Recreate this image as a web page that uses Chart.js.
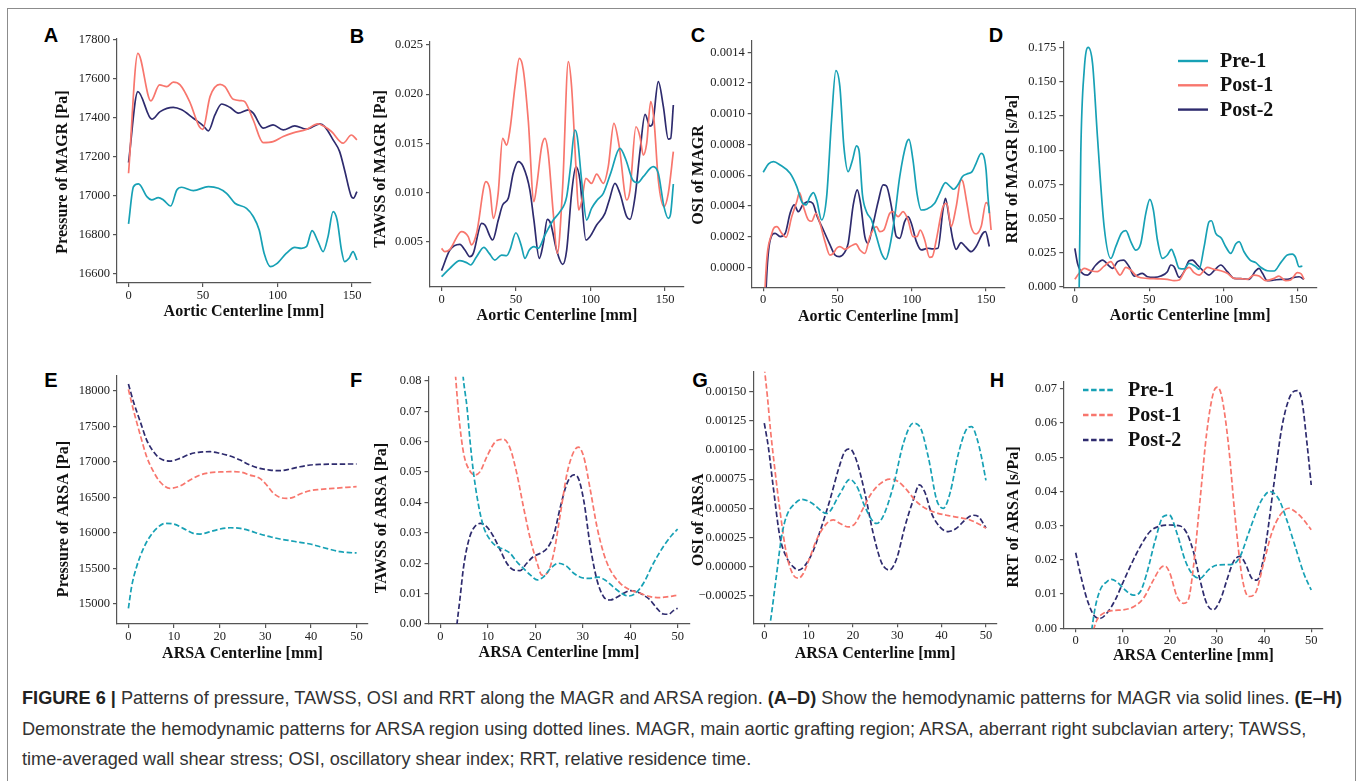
<!DOCTYPE html>
<html><head><meta charset="utf-8">
<script src="https://cdn.jsdelivr.net/npm/chart.js@4.4.0/dist/chart.umd.min.js"></script>
<style>
html,body{margin:0;padding:0;background:#fff;width:1360px;height:781px;overflow:hidden;position:relative;}
#frame{position:absolute;left:7px;top:8px;width:1349px;height:830px;border:1.5px solid #8c8c8c;box-sizing:border-box;}
canvas{position:absolute;}
.lbl{position:absolute;font:bold 20px 'Liberation Sans',Arial,sans-serif;color:#000;transform:translate(-50%,-50%);line-height:20px;}
.cap{position:absolute;left:22px;white-space:nowrap;font-family:'Liberation Sans',Arial,sans-serif;color:#333;line-height:20px;font-size:16px;}
.cap b{color:#222;}
</style></head><body>
<div id="frame"></div>
<div class="lbl" style="left:51px;top:35px">A</div>
<div class="lbl" style="left:357px;top:36px">B</div>
<div class="lbl" style="left:698px;top:35px">C</div>
<div class="lbl" style="left:996px;top:35px">D</div>
<div class="lbl" style="left:51px;top:380px">E</div>
<div class="lbl" style="left:356px;top:380px">F</div>
<div class="lbl" style="left:700px;top:380px">G</div>
<div class="lbl" style="left:997px;top:380px">H</div>
<div class="cap" id="cap1" style="top:688px"><b>FIGURE 6 |</b> Patterns of pressure, TAWSS, OSI and RRT along the MAGR and ARSA region. <b>(A–D)</b> Show the hemodynamic patterns for MAGR via solid lines. <b>(E–H)</b></div>
<div class="cap" id="cap2" style="top:719px">Demonstrate the hemodynamic patterns for ARSA region using dotted lines. MAGR, main aortic grafting region; ARSA, aberrant right subclavian artery; TAWSS,</div>
<div class="cap" id="cap3" style="top:749px">time-averaged wall shear stress; OSI, oscillatory shear index; RRT, relative residence time.</div>
<script>
// ---------------- DATA ----------------
const seriesNames = ['Pre-1', 'Post-1', 'Post-2'];
const seriesColors = ['#17a1b5', '#f8766d', '#2e2b6e'];

// Panel A: Pressure of MAGR [Pa]
const A_pre_x = [0,3.3,6.7,12.3,15.6,20,23.4,28.3,32.4,35.7,43.5,53.6,60.3,65.8,71.4,79.2,83.7,87.7,91,95.3,99.3,106,111.6,116,119.4,123.2,127.2,130.6,133.9,137.3,140,142.9,145,148,150.7,153.3];
const A_pre_y = [16853,17044,17058,16993,16976,16988,16976,16945,17027,17041,17024,17044,17036,17010,16959,16933,16891,16822,16703,16634,16648,16703,16733,16728,16736,16819,16762,16711,16788,16916,16873,16720,16660,16677,16711,16668];
const A_p1_x = [0,6.25,15,20.8,25.7,30,34.6,41,47.5,49.8,54.7,61.4,64.7,70.3,75.9,78,83.7,90.4,97,103.8,110.5,119.4,127.2,130.6,136.2,144,149.6,153.3];
const A_p1_y = [17113,17728,17484,17566,17557,17580,17566,17480,17352,17338,17506,17569,17557,17492,17485,17480,17386,17270,17275,17301,17320,17338,17366,17356,17327,17267,17309,17284];
const A_p2_x = [0,6.25,15.6,21.2,30,35.7,43.5,50.2,53.6,58,62.5,68,73.7,80.4,83.7,90.4,97,103.8,111.6,119.4,128.3,131.7,137.3,141.7,145,149.6,151,153.3];
const A_p2_y = [17168,17532,17390,17429,17451,17438,17395,17356,17330,17412,17468,17451,17421,17438,17421,17344,17361,17335,17356,17339,17366,17352,17284,17224,17130,16993,16985,17019];

// Panel B: TAWSS of MAGR [Pa]
const B_pre_x = [0,5.6,12.3,16.8,19.5,23.5,28.4,32,35.8,40.3,43.7,45.9,49.9,53.7,55.9,58.9,62,64.9,69.4,75,79.5,84,86.6,89.5,91.1,94,97.4,100.7,104.5,108.6,113.5,119.7,123.8,128.3,131.6,135.4,142.1,145.5,149.3,152.2,153.8,155.6];
const B_pre_y = [0.00144,0.00229,0.00307,0.00287,0.00263,0.00347,0.00442,0.00381,0.00313,0.00364,0.00358,0.00415,0.00591,0.00449,0.00330,0.00415,0.00449,0.00432,0.00568,0.00720,0.00805,0.00958,0.01263,0.01636,0.01568,0.01127,0.00720,0.00839,0.00924,0.00992,0.01195,0.01449,0.01331,0.01127,0.01100,0.01161,0.01263,0.01195,0.00856,0.00737,0.00788,0.01087];
const B_p1_x = [0,2.2,5.6,13.4,17.9,20.1,23.5,29.8,32.5,34.7,38,41,43.7,45.9,49.3,52.2,54.9,58.2,62,63.8,67.2,69.4,71.6,75,77.7,81.3,85.1,87.3,90.2,92,94,96.9,100.7,104.1,108.6,111.9,115.7,119.3,124.3,126.5,130.5,133.2,135.4,137.7,140.4,142.6,145.5,149.3,152.2,155.6];
const B_p1_y = [0.00432,0.00398,0.00422,0.00602,0.00551,0.00466,0.00585,0.01110,0.01025,0.00737,0.00992,0.01551,0.01483,0.01636,0.02076,0.02364,0.02246,0.01737,0.00907,0.01059,0.01466,0.01551,0.01398,0.00788,0.00381,0.01059,0.02331,0.02076,0.01263,0.00822,0.00907,0.01144,0.01093,0.01188,0.01093,0.01263,0.01703,0.01466,0.00924,0.01025,0.01669,0.01568,0.01381,0.01500,0.01924,0.01737,0.01127,0.00856,0.00992,0.01415];
const B_p2_x = [0,5.6,12.3,15.7,19,21.3,26.9,29.1,34.3,38.1,41,44.8,48.1,51.5,54.8,59.3,62,65.6,68.3,71,73.2,77.2,81.3,84,87.3,90.2,92.9,96.9,99.6,104.1,109.7,112.6,116.4,119.7,124.3,126.5,129.9,133.2,136.6,139.9,141.7,145.5,148.9,152.2,153.8,155.6];
const B_p2_y = [0.00205,0.00415,0.00473,0.00415,0.00347,0.00381,0.00686,0.00669,0.00517,0.00720,0.00873,0.00941,0.01195,0.01314,0.01263,0.01025,0.00720,0.00330,0.00483,0.00727,0.00686,0.00415,0.00269,0.00415,0.00992,0.01263,0.01127,0.00517,0.00551,0.00669,0.00788,0.00924,0.01093,0.00992,0.00754,0.00727,0.00958,0.01415,0.01795,0.01676,0.01703,0.02127,0.01873,0.01544,0.01551,0.01890];

// Panel C: OSI of MAGR
const C_pre_x = [0,3.6,6.9,11.4,18.1,22.6,25.9,28.8,31.5,33.8,36,39.3,42.7,46,48.9,51.6,54.3,57.2,60.1,62.8,64.6,66.8,69.5,72.9,76.2,79.6,82.5,85.2,88.5,91.9,96.4,98.1,100.8,103.5,106.4,109.8,115.4,118.7,122.7,125.9,128.1,131.7,134,137.1,140.6,143.3,146.7,148.2,150,151.1,152.2];
const C_pre_y = [0.000619,0.000673,0.000688,0.000666,0.000612,0.000525,0.000428,0.000406,0.000460,0.000486,0.000438,0.000308,0.000460,0.000959,0.001281,0.001176,0.000786,0.000623,0.000699,0.000790,0.000753,0.000471,0.000362,0.000308,0.000200,0.000091,0.000052,0.000135,0.000330,0.000590,0.000807,0.000833,0.000699,0.000482,0.000373,0.000378,0.000417,0.000482,0.000551,0.000525,0.000508,0.000547,0.000590,0.000608,0.000623,0.000677,0.000742,0.000731,0.000634,0.000482,0.000352];
const C_p1_x = [0.8,1.3,5.8,9.2,12.5,15.4,19.2,22.6,24.4,27.1,30.4,32.6,35.5,38.2,41.6,44.9,47.2,49.4,51.6,55,58.4,62.4,65.1,68.4,71.8,76.2,78.5,81.2,85.2,87.4,90.8,94.1,97.5,100.8,103.5,105.7,108.7,112,113.8,116.5,121,123.6,126.5,129.9,133.2,134.4,137.1,139.9,143.3,146.7,150,151.8,153.4];
const C_p1_y = [-0.0003,-0.000126,0.000221,0.000265,0.000221,0.000195,0.000330,0.000428,0.000486,0.000395,0.000308,0.000300,0.000352,0.000287,0.000167,0.000080,0.000091,0.000124,0.000135,0.000117,0.000135,0.000152,0.000113,0.000091,0.000200,0.000265,0.000232,0.000243,0.000352,0.000362,0.000330,0.000362,0.000308,0.000200,0.000200,0.000243,0.000178,0.000065,0.000069,0.000178,0.000395,0.000417,0.000265,0.000395,0.000569,0.000558,0.000417,0.000265,0.000217,0.000265,0.000421,0.000395,0.000243];
const C_p2_x = [1.5,2,4.7,8,11.4,14.8,18.1,20.8,23.7,26.6,30.4,33.3,36.4,40.5,44.5,48.3,51.2,54.3,57.2,60.6,63.3,65.5,68.4,70.6,73.6,77.4,80.7,82.9,86.3,89.6,91.9,95.2,97.5,99.7,103.1,106.4,110.9,114.2,117.6,121,122.7,125,127.7,129.9,133.2,136.1,139.9,143.3,147.8,149.6,152.2];
const C_p2_y = [-0.0003,-0.000126,0.000178,0.000221,0.000200,0.000221,0.000352,0.000406,0.000362,0.000406,0.000428,0.000417,0.000330,0.000243,0.000156,0.000080,0.000069,0.000091,0.000156,0.000406,0.000504,0.000417,0.000200,0.000156,0.000265,0.000428,0.000536,0.000530,0.000395,0.000200,0.000189,0.000297,0.000330,0.000287,0.000167,0.000113,0.000124,0.000120,0.000124,0.000373,0.000449,0.000330,0.000178,0.000117,0.000161,0.000135,0.000102,0.000135,0.000221,0.000232,0.000135];

// Panel D: RRT of MAGR [s/Pa]
const D_pre_x = [2.5,2.9,4,6.3,9,11.9,15.2,19.7,24.2,27.5,31.3,34.3,37.6,41,44.3,47.7,50.4,52.8,55.5,58.9,62.2,64.9,67.2,70.1,73.4,76.8,81.3,83.5,86.9,90.2,91.8,94.7,98.5,101.4,104.8,108.1,110.4,113.7,117.8,121.6,124.9,129.4,133.9,138.4,142.8,146.2,148.4,150.7,152.9];
const D_pre_y = [-0.01,-0.0024,0.0976,0.1586,0.1752,0.1635,0.1098,0.0439,0.0207,0.0293,0.0391,0.0410,0.0330,0.0268,0.0317,0.0537,0.0640,0.0561,0.0342,0.0207,0.0232,0.0273,0.0220,0.0134,0.0130,0.0171,0.0146,0.0127,0.0293,0.0476,0.0483,0.0391,0.0354,0.0293,0.0244,0.0312,0.0330,0.0256,0.0195,0.0176,0.0142,0.0117,0.0115,0.0176,0.0232,0.0239,0.0215,0.0146,0.0151];
const D_p1_x = [0,2.9,6.3,10.7,15.2,19.7,24.2,27.5,30.4,34.3,37.6,42.1,48.8,55.5,62.2,66.7,70.1,74.5,76.8,80.1,83.5,89.1,93.6,98.1,102.5,107,111.5,116,120.4,123.8,128.3,133.9,137.2,141.7,145.1,149.6,152.2,154];
const D_p1_y = [0.0054,0.0098,0.0134,0.0117,0.0110,0.0151,0.0183,0.0127,0.0085,0.0142,0.0122,0.0073,0.0061,0.0058,0.0054,0.0044,0.0049,0.0127,0.0142,0.0103,0.0085,0.0142,0.0127,0.0117,0.0098,0.0061,0.0059,0.0054,0.0085,0.0078,0.0044,0.0061,0.0078,0.0044,0.0049,0.0103,0.0093,0.0054];
const D_p2_x = [0,1.8,5.1,8.5,14.1,18.6,23.1,25.3,28.7,32.7,36.5,39.9,45.4,48.8,53.3,57.8,62.2,64.5,66.7,70.1,73.4,76.8,79,82.4,86.9,90.2,93.6,98.1,102.5,107,111.5,117.1,121.6,123.8,126.1,129.4,133.9,138.4,142.8,147.3,150.7,154];
const D_p2_y = [0.0281,0.0171,0.0098,0.0085,0.0159,0.0195,0.0151,0.0134,0.0183,0.0195,0.0146,0.0078,0.0098,0.0073,0.0068,0.0078,0.0110,0.0159,0.0146,0.0068,0.0110,0.0190,0.0195,0.0159,0.0110,0.0085,0.0117,0.0159,0.0110,0.0061,0.0059,0.0054,0.0117,0.0134,0.0098,0.0044,0.0049,0.0054,0.0054,0.0068,0.0073,0.0054];

// Panel E: Pressure of ARSA [Pa]
const E_pre_x = [0,0.7,1.8,3.3,4.7,6.2,8,9.9,12,14.2,15.7,17.9,20.1,22.3,24.5,26.6,28.8,31,33.2,35.4,37.6,39.8,42,44.2,46.4,48.5,50];
const E_pre_y = [14939,15244,15525,15783,15947,16064,16134,16125,16064,15994,15984,16017,16055,16073,16064,16031,15984,15947,15914,15891,15867,15844,15806,15769,15736,15722,15720];
const E_p1_x = [0,1.1,2.6,4,5.5,6.9,9.1,11.3,13.5,15.7,17.9,20.1,22.3,24.5,26.6,28.8,30.3,31.8,33.2,34.7,36.1,37.6,39.8,42,44.9,47.8,50];
const E_p1_y = [18019,17728,17377,17072,16861,16720,16627,16659,16744,16814,16847,16858,16861,16856,16814,16767,16673,16556,16500,16486,16500,16547,16594,16612,16627,16641,16650];
const E_p2_x = [0,1.1,2.6,4,5.5,6.9,9.1,11.3,13.5,15.7,17.9,20.1,22.3,24.5,26.6,28.8,31,33.2,35.4,37.6,39.8,42,44.9,47.8,50];
const E_p2_y = [18094,17845,17564,17306,17142,17048,17011,17048,17109,17137,17142,17119,17081,17025,16955,16908,16884,16875,16898,16931,16955,16964,16967,16969,16969];

// Panel F: TAWSS of ARSA [Pa]
const F_pre_x = [4.4,4.8,5.6,6.3,7,8.1,9.1,10.5,11.9,13.3,14.7,16.1,17.5,19,20.4,21.8,23.2,24.9,26.7,28.1,29.5,31.2,33.3,34.7,36.5,38.2,39.6,41.1,42.8,44.9,47,48.8,50];
const F_pre_y = [0.09,0.0814,0.0715,0.0595,0.0496,0.0386,0.0320,0.0277,0.0255,0.0246,0.0233,0.0205,0.0183,0.0161,0.0145,0.0156,0.0183,0.0200,0.0189,0.0167,0.0154,0.0150,0.0154,0.0145,0.0121,0.0101,0.0092,0.0101,0.0134,0.0200,0.0255,0.0293,0.0312];
const F_p1_x = [2.8,3.2,3.9,4.9,6.3,7.4,8.4,9.8,11.9,13.3,14.7,16.1,17.5,19,20.4,21.4,22.5,23.9,25.3,26.7,28.1,29.1,30.2,31.6,33,34.4,35.8,37.9,40,42.1,44.2,46.3,48.1,50];
const F_p1_y = [0.09,0.0816,0.0683,0.0562,0.0502,0.0491,0.0502,0.0551,0.0604,0.0608,0.0578,0.0496,0.0386,0.0277,0.0200,0.0161,0.0167,0.0233,0.0364,0.0496,0.0567,0.0582,0.0551,0.0441,0.0320,0.0233,0.0178,0.0134,0.0112,0.0101,0.0090,0.0087,0.0090,0.0095];
const F_p2_x = [3.3,3.5,4.1,4.9,6,7,8.4,9.8,11.2,12.6,14,15.4,16.8,18.2,19.6,21.1,22.5,23.9,25.3,26.7,28.1,28.9,30.2,31.6,33,34.4,35.8,37.2,38.6,40,41.4,42.8,44.2,45.6,47,48.1,49.1,50];
const F_p2_y = [-0.003,0,0.0079,0.0189,0.0277,0.0315,0.0331,0.0320,0.0288,0.0244,0.0200,0.0178,0.0176,0.0200,0.0222,0.0233,0.0249,0.0293,0.0386,0.0463,0.0491,0.0485,0.0408,0.0255,0.0145,0.0090,0.0079,0.0088,0.0101,0.0110,0.0106,0.0095,0.0079,0.0052,0.0033,0.0032,0.0044,0.0052];

// Panel G: OSI of ARSA
const G_pre_x = [0.9,1.65,2.8,3.9,5,6.9,8.5,10.5,14.1,17,19.3,21,22.7,25.3,26.8,29.1,31.4,33.6,35.1,37,38.9,40.4,41.9,43.8,45.5,46.8,47.9,49,50];
const G_pre_y = [-0.0006,-0.00040,-0.000059,0.000256,0.00043,0.00054,0.000577,0.00055,0.000456,0.00062,0.000748,0.00068,0.000513,0.00037,0.00043,0.00069,0.00106,0.00123,0.0012,0.00094,0.00057,0.0005,0.00063,0.00097,0.00117,0.0012,0.00111,0.00094,0.00074];
const G_p1_x = [0,0.7,1.4,2.4,3.5,5,6.5,7.7,8.8,10.3,11.8,14.1,15.6,17.1,19,20.5,22.3,24.2,26.1,28.3,30.2,32.1,34,35.9,38.1,41.1,44.1,46.4,48.6,50];
const G_p1_y = [0.00171,0.00146,0.00117,0.00083,0.00049,0.00011,-0.00007,-0.00010,-0.00006,0.00008,0.00023,0.00037,0.00040,0.00037,0.00034,0.00037,0.00050,0.00063,0.00071,0.00075,0.00073,0.00066,0.00057,0.00051,0.00047,0.00044,0.00042,0.00040,0.00036,0.00033];
const G_p2_x = [0,0.9,2,3.5,5,6.5,7.7,9.2,11.1,12.9,14.8,16.7,18.2,19.3,20.8,22.7,24.6,26.5,28.2,29.8,31.7,33.6,35,36.2,37.7,39.6,41.5,43.4,45.3,47,48.3,49.4,50];
const G_p2_y = [0.00123,0.00103,0.00069,0.00026,0.00008,-0.000001,-0.00003,0.00001,0.00014,0.00034,0.00057,0.00083,0.00099,0.00101,0.00091,0.00063,0.00028,0.00003,-0.00003,0.00006,0.00034,0.00057,0.0007,0.00064,0.00046,0.00034,0.0003,0.00033,0.0004,0.00044,0.00043,0.00037,0.00033];

// Panel H: RRT of ARSA [s/Pa]
const H_pre_x = [3.4,4.1,5.2,6.6,7.6,8.7,10.5,12.3,13.7,15.1,16.9,18.6,19.9,21.5,23.2,24.6,26.4,28.2,30,32.1,33.5,34.9,36.7,38.5,39.6,41.2,43.1,44.8,46.6,48.4,50];
const H_pre_y = [-0.0005,0.0058,0.0112,0.0136,0.0143,0.0136,0.0112,0.0097,0.0107,0.0161,0.0258,0.0327,0.0331,0.0278,0.0200,0.0161,0.0146,0.0171,0.0185,0.0186,0.0188,0.0210,0.0278,0.0346,0.0378,0.0400,0.0378,0.0317,0.0239,0.0161,0.0112];
const H_p1_x = [3.75,4.5,5.9,8,10.1,12.3,14.4,16.5,18.3,19,20,21.5,22.9,23.9,25,26.4,27.8,29.2,30.1,31,32.4,33.9,35.3,36.7,38.1,39.9,41.6,43.4,45.2,46.6,48.4,50];
const H_p1_y = [-0.0005,0.0024,0.0044,0.0052,0.0054,0.0063,0.0088,0.0141,0.0180,0.0182,0.0161,0.0093,0.0073,0.0083,0.0180,0.0375,0.0570,0.0687,0.0705,0.0678,0.0541,0.0317,0.0151,0.0093,0.0102,0.0190,0.0278,0.0331,0.0351,0.0341,0.0317,0.0288];
const H_p2_x = [0,1.3,2.7,4.1,5.2,6.6,8.4,10.1,11.9,13.7,15.8,17.9,20,22.2,23.6,25,26.4,27.8,29.2,30.7,32.1,33.5,34.8,36,37.4,38.5,39.5,40.6,42,43.8,45.5,47,48,49.1,50];
const H_p2_y = [0.0221,0.0141,0.0073,0.0034,0.0029,0.0044,0.0083,0.0136,0.0190,0.0239,0.0283,0.0299,0.0302,0.0299,0.0278,0.0224,0.0141,0.0073,0.0054,0.0083,0.0141,0.0195,0.0210,0.0190,0.0146,0.0141,0.0180,0.0268,0.0414,0.0590,0.0678,0.0695,0.0668,0.0541,0.0419];

// Tick labels
const ticksMAGRx = [0, 50, 100, 150];
const ticksARSAx = [0, 10, 20, 30, 40, 50];
const ticksA = [16600,16800,17000,17200,17400,17600,17800];
const ticksB = [0.005,0.010,0.015,0.020,0.025];
const ticksC = [0,0.0002,0.0004,0.0006,0.0008,0.0010,0.0012,0.0014];
const ticksD = [0,0.025,0.05,0.075,0.1,0.125,0.15,0.175];
const ticksE = [15000,15500,16000,16500,17000,17500,18000];
const ticksF = [0,0.01,0.02,0.03,0.04,0.05,0.06,0.07,0.08];
const ticksG = [-0.00025,0,0.00025,0.0005,0.00075,0.001,0.00125,0.0015];
const ticksH = [0,0.01,0.02,0.03,0.04,0.05,0.06,0.07];

// ---------------- DRAWING ----------------
function fmt(v, d) {
  const a = Math.abs(v) < 1e-12 ? 0 : Math.abs(v);
  return (v < -1e-12 ? '\u2212' : '') + a.toFixed(d);
}
function pts(xs, ys) { return xs.map((x, i) => ({x: x, y: ys[i]})); }

const yTitlePlugin = {
  id: 'ytitle',
  afterDraw(chart, args, o) {
    if (!o || !o.text) return;
    const ctx = chart.ctx;
    ctx.save();
    ctx.translate(o.x, o.y);
    ctx.rotate(-Math.PI / 2);
    ctx.font = "bold 16px 'Liberation Serif', 'Times New Roman', serif";
    ctx.fillStyle = '#111';
    ctx.textAlign = 'center';
    ctx.textBaseline = 'middle';
    ctx.fillText(o.text, 0, 0);
    ctx.restore();
  }
};
const legendPlugin = {
  id: 'inlegend',
  afterDraw(chart, args, o) {
    if (!o || !o.show) return;
    const ctx = chart.ctx;
    ctx.save();
    chart.data.datasets.forEach((ds, i) => {
      const y = o.y0 + i * o.dy;
      ctx.strokeStyle = ds.borderColor;
      ctx.lineWidth = 2.4;
      ctx.setLineDash(ds.borderDash || []);
      ctx.beginPath(); ctx.moveTo(o.x0, y); ctx.lineTo(o.x1, y); ctx.stroke();
      ctx.setLineDash([]);
      ctx.fillStyle = '#111';
      ctx.font = "bold 20px 'Liberation Serif', 'Times New Roman', serif";
      ctx.textAlign = 'left'; ctx.textBaseline = 'middle';
      ctx.fillText(ds.label, o.xt, y + 1);
    });
    ctx.restore();
  }
};

function makePanel(p) {
  const cv = document.createElement('canvas');
  const cl = Math.floor(p.yTitlePos[0] - 14);
  const ct = Math.floor(p.area.t - 14);
  const cr = Math.ceil(p.area.r + 14);
  const H = Math.round(p.xTitleY + 9.6 - ct);
  const W = cr - cl;
  cv.width = W; cv.height = H;
  cv.style.left = cl + 'px'; cv.style.top = ct + 'px';
  cv.style.width = W + 'px'; cv.style.height = H + 'px';
  document.body.appendChild(cv);
  const YW = p.area.l - cl, PT = p.area.t - ct, PR = cr - p.area.r, XH = (ct + H) - p.area.b;
  const tickFont = {family: "'Liberation Serif', 'Times New Roman', serif", size: 12.5};
  const datasets = p.series.map((s, i) => ({
    label: seriesNames[i],
    data: pts(s[0], s[1]),
    borderColor: seriesColors[i],
    borderWidth: 1.7,
    borderDash: p.dashed ? [5.5, 2.6] : [],
    pointRadius: 0,
    fill: false,
    cubicInterpolationMode: 'monotone'
  }));
  const leg = p.legend ? {show: true, x0: p.legend.x0 - cl, x1: p.legend.x1 - cl, xt: p.legend.xt - cl, y0: p.legend.y0 - ct, dy: p.legend.dy} : {show: false};
  new Chart(cv, {
    type: 'line',
    data: {datasets: datasets},
    plugins: [yTitlePlugin, legendPlugin],
    options: {
      responsive: false, animation: false, devicePixelRatio: 1,
      layout: {padding: {left: 0, top: PT, right: PR, bottom: 0}},
      plugins: {
        legend: {display: false}, tooltip: {enabled: false},
        ytitle: {text: p.yTitle, x: p.yTitlePos[0] - cl, y: p.yTitlePos[1] - ct},
        inlegend: leg
      },
      scales: {
        x: {
          type: 'linear', min: p.xmin, max: p.xmax,
          afterBuildTicks: s => { s.ticks = p.xticks.map(v => ({value: v})); },
          afterFit: s => { s.height = XH; },
          grid: {display: true, drawOnChartArea: false, drawTicks: true, tickLength: 4, color: '#555', lineWidth: 1.2},
          border: {display: true, color: '#555', width: 1.2},
          ticks: {autoSkip: false, maxRotation: 0, minRotation: 0, color: '#222', font: tickFont, padding: 1, callback: v => String(v)},
          title: {display: true, text: p.xTitle, color: '#111', padding: 0, font: {family: "'Liberation Serif', 'Times New Roman', serif", size: 16, weight: 'bold'}}
        },
        y: {
          type: 'linear', min: p.ymin, max: p.ymax,
          afterBuildTicks: s => { s.ticks = p.yticks.map(v => ({value: v})); },
          afterFit: s => { s.width = YW; },
          grid: {display: true, drawOnChartArea: false, drawTicks: true, tickLength: 4, color: '#555', lineWidth: 1.2},
          border: {display: true, color: '#555', width: 1.2},
          ticks: {autoSkip: false, color: '#222', font: tickFont, padding: 3, callback: v => fmt(v, p.ydec)}
        }
      }
    }
  });
}

const topX = 'Aortic Centerline [mm]';
const botX = 'ARSA Centerline [mm]';
const panels = [
  {area: {l: 117, t: 38.5, r: 371, b: 283}, xmin: -7.75, xmax: 162.75, ymin: 16550, ymax: 17804, xticks: ticksMAGRx, yticks: ticksA, ydec: 0,
   xTitle: topX, yTitle: 'Pressure of MAGR [Pa]', yTitlePos: [63, 172], xTitleY: 311,
   series: [[A_pre_x, A_pre_y], [A_p1_x, A_p1_y], [A_p2_x, A_p2_y]]},
  {area: {l: 430, t: 41.7, r: 684, b: 287}, xmin: -7.75, xmax: 162.75, ymin: 0.00039, ymax: 0.02534, xticks: ticksMAGRx, yticks: ticksB, ydec: 3,
   xTitle: topX, yTitle: 'TAWSS of MAGR [Pa]', yTitlePos: [381, 169], xTitleY: 315,
   series: [[B_pre_x, B_pre_y], [B_p1_x, B_p1_y], [B_p2_x, B_p2_y]]},
  {area: {l: 751.7, t: 40.7, r: 1005, b: 287.3}, xmin: -7.75, xmax: 162.75, ymin: -0.00013, ymax: 0.001475, xticks: ticksMAGRx, yticks: ticksC, ydec: 4,
   xTitle: topX, yTitle: 'OSI of MAGR', yTitlePos: [699, 175], xTitleY: 316,
   series: [[C_pre_x, C_pre_y], [C_p1_x, C_p1_y], [C_p2_x, C_p2_y]]},
  {area: {l: 1063.3, t: 41.7, r: 1317, b: 287.3}, xmin: -7.75, xmax: 162.75, ymin: -0.00044, ymax: 0.1794, xticks: ticksMAGRx, yticks: ticksD, ydec: 3,
   xTitle: topX, yTitle: 'RRT of MAGR [s/Pa]', yTitlePos: [1012.5, 169], xTitleY: 315,
   series: [[D_pre_x, D_pre_y], [D_p1_x, D_p1_y], [D_p2_x, D_p2_y]],
   legend: {x0: 1178, x1: 1208, xt: 1220, y0: 61, dy: 24.3}},
  {area: {l: 117, t: 376, r: 368, b: 624}, xmin: -2.5, xmax: 52.5, ymin: 14719, ymax: 18207, xticks: ticksARSAx, yticks: ticksE, ydec: 0, dashed: true,
   xTitle: botX, yTitle: 'Pressure of ARSA [Pa]', yTitlePos: [63.5, 519], xTitleY: 653,
   series: [[E_pre_x, E_pre_y], [E_p1_x, E_p1_y], [E_p2_x, E_p2_y]]},
  {area: {l: 428.5, t: 376.7, r: 689.5, b: 624}, xmin: -2.5, xmax: 52.5, ymin: 0, ymax: 0.0814, xticks: ticksARSAx, yticks: ticksF, ydec: 2, dashed: true,
   xTitle: botX, yTitle: 'TAWSS of ARSA [Pa]', yTitlePos: [382, 518], xTitleY: 652,
   series: [[F_pre_x, F_pre_y], [F_p1_x, F_p1_y], [F_p2_x, F_p2_y]]},
  {area: {l: 753.2, t: 371.7, r: 997, b: 623.3}, xmin: -2.5, xmax: 52.5, ymin: -0.000487, ymax: 0.001672, xticks: ticksARSAx, yticks: ticksG, ydec: 5, dashed: true,
   xTitle: botX, yTitle: 'OSI of ARSA', yTitlePos: [698.5, 520], xTitleY: 653,
   series: [[G_pre_x, G_pre_y], [G_p1_x, G_p1_y], [G_p2_x, G_p2_y]]},
  {area: {l: 1063.9, t: 381.7, r: 1323, b: 628.3}, xmin: -2.5, xmax: 52.5, ymin: 0, ymax: 0.0721, xticks: ticksARSAx, yticks: ticksH, ydec: 2, dashed: true,
   xTitle: botX, yTitle: 'RRT of ARSA [s/Pa]', yTitlePos: [1013.5, 517], xTitleY: 655,
   series: [[H_pre_x, H_pre_y], [H_p1_x, H_p1_y], [H_p2_x, H_p2_y]],
   legend: {x0: 1083, x1: 1115, xt: 1128, y0: 390, dy: 25}}
];
panels.forEach(makePanel);

// fit caption size so that first line spans the measured width
(function () {
  const c1 = document.getElementById('cap1');
  const w = c1.getBoundingClientRect().width;
  const size = 16 * 1320 / w;
  ['cap1', 'cap2', 'cap3'].forEach(id => { document.getElementById(id).style.fontSize = size.toFixed(2) + 'px'; });
})();
</script>
</body></html>
